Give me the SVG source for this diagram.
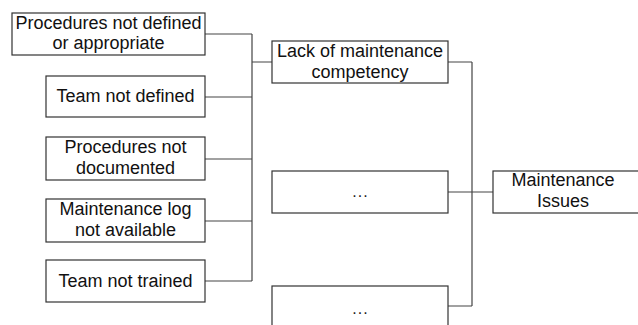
<svg xmlns="http://www.w3.org/2000/svg" width="638" height="325" viewBox="0 0 638 325">
<style>
.box{fill:#fff;stroke:#333;stroke-width:1.2}
.t{font-family:"Liberation Sans",Arial,sans-serif;font-size:18px;fill:#111;text-anchor:middle}
.d{font-family:"Liberation Sans",Arial,sans-serif;font-size:16px;fill:#222;text-anchor:middle;letter-spacing:1px}
.c{fill:none;stroke:#444;stroke-width:1.2}
</style>
<rect width="638" height="325" fill="#fff"/>
<g id="connectors">
<path class="c" d="M205,34H252M205,97H252M205,159H252M205,221H252M205,281H252M252,34V281M252,62H272"/>
<path class="c" d="M448,62H472M448,192H493M448,306H472M472,62V306"/>
</g>
<g id="n1"><rect class="box" x="12" y="13" width="193" height="42"/><text class="t" x="108.5" y="29">Procedures not defined</text><text class="t" x="108.5" y="49">or appropriate</text></g>
<g id="n2"><rect class="box" x="46" y="76" width="159" height="41"/><text class="t" x="125.5" y="102">Team not defined</text></g>
<g id="n3"><rect class="box" x="46" y="137" width="159" height="43"/><text class="t" x="125.5" y="153">Procedures not</text><text class="t" x="125.5" y="174">documented</text></g>
<g id="n4"><rect class="box" x="46" y="199" width="159" height="43"/><text class="t" x="125.5" y="215">Maintenance log</text><text class="t" x="125.5" y="236">not available</text></g>
<g id="n5"><rect class="box" x="46" y="260" width="159" height="42"/><text class="t" x="125.5" y="287">Team not trained</text></g>
<g id="n6"><rect class="box" x="272" y="41" width="176" height="42"/><text class="t" x="360" y="57">Lack of maintenance</text><text class="t" x="360" y="78">competency</text></g>
<g id="n7"><rect class="box" x="272" y="171" width="176" height="42"/><text class="d" x="360.5" y="197">...</text></g>
<g id="n8"><rect class="box" x="272" y="286" width="176" height="60"/><text class="d" x="360.5" y="314">...</text></g>
<g id="n9"><rect class="box" x="493" y="171" width="160" height="42"/><text class="t" x="563" y="186">Maintenance</text><text class="t" x="563" y="207">Issues</text></g>
</svg>
